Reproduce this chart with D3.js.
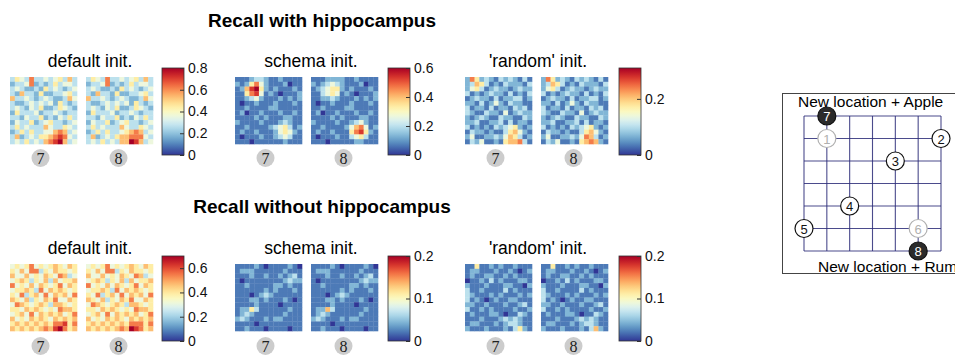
<!DOCTYPE html>
<html>
<head>
<meta charset="utf-8">
<script src="https://cdn.jsdelivr.net/npm/d3@7"></script>
<style>
  body { margin: 0; background: #fff; }
  svg { display: block; font-family: "Liberation Sans", Arial, sans-serif; }
</style>
</head>
<body>
<svg id="chart" width="955" height="358"></svg>
<script>
// each string is one row of a 14x14 map, digit d = d/9 of the colourbar max
const withDefault7 = ["35437334345363","23347232353443","34322325343234","32633252233453","63343234322364","32234343425323","34324352235432","25333423343233","33243352324353","24335234533234","35343336433543","23535334467634","36234355678743","34353436789634"];
const withDefault8 = ["35437334345363","23347232353443","34322325343234","32633252233453","63343234322364","32234343425323","34324352235432","25333423343233","33243352324353","24335234533234","35343336433543","23535334567634","36234356677743","34353436698634"];
const withSchema7 = ["11123321121111","21257421112011","12689521211121","11578412101112","11234211121212","10112111211121","11211112211111","12011211121121","11112121112211","21111211123211","11211112345312","12112111245421","10111211234311","11101111112111"];
const withSchema8 = ["11122221121111","21234321112011","12345521211121","11345412101112","11223211121212","10112111211121","11211112211111","12011211121121","11112121112211","21111211234211","11211112467412","12112111578521","10111211345311","11101111122111"];
const withRandom7 = ["27523213232131","23653121322213","24531232212322","31212322131213","12322131223312","22131242132211","31221312213231","32113221412322","21232113221132","22311223131221","31212132345212","13221211356421","24112232465312","13241121566731"];
const withRandom8 = ["27523213232131","23653121322213","24531232212322","31212322131213","12322131223312","22131242132211","31221312213231","32113221412322","21232113221132","22311223131221","31212132345212","13221211356421","24112232476312","13241121567621"];

const withoutDefault7 = ["45457454565465","54647735465545","64464546547634","45653546364556","74546465457465","45565374656545","54735647465647","65463546574465","47654565366545","55465654547665","45647465656457","64546565465656","56565656577857","65656567689756"];
const withoutDefault8 = ["45457454565465","54647735465545","64464546547634","45653546364556","74546465457465","45565374656545","54735647465647","65463546574465","47654565366545","55465654547665","45647465656457","64546565465656","56565656577757","65656567698756"];
const withoutSchema7 = ["11112101111210","12221111112111","11121121121231","10111111112322","11211111221211","11111121211121","11101232111111","11122121112101","11112111101111","12253111111211","12321111112111","23211121221111","11110111111111","11211101111011"];
const withoutSchema8 = ["11112101111210","12221111112111","11121121121231","10111111112322","11211111221211","11111121211121","11101232111111","11122121112101","11112111101111","12263111111211","12321111112111","23211121221111","11110111111111","11211101111011"];
const withoutRandom7 = ["11511212112111","12211121121012","12112211212111","01121312111221","21112111221102","31121111312111","32111212111212","31210121122111","22112111211231","31121211112112","12111221011321","11121112323211","12211121233211","21112111213521"];
const withoutRandom8 = ["11511212112111","12211121121012","12112211212111","01121312111221","21112111221102","31121111312111","32111212111212","31210121122111","22112111211231","31121211112112","12111221011321","11121112323211","12211121233211","21112111213621"];

const rowTitles = ["Recall with hippocampus", "Recall without hippocampus"];
const panelTitles = ["default init.", "schema init.", "'random' init."];
const panelMax = [[0.8, 0.6, 0.31], [0.7, 0.2, 0.2]];
const panelTicks = [[[0, 0.2, 0.4, 0.6, 0.8], [0, 0.2, 0.4, 0.6], [0, 0.2]],
                    [[0, 0.2, 0.4, 0.6], [0, 0.1, 0.2], [0, 0.1, 0.2]]];
const panelMaps = [[[withDefault7, withDefault8], [withSchema7, withSchema8], [withRandom7, withRandom8]],
                   [[withoutDefault7, withoutDefault8], [withoutSchema7, withoutSchema8], [withoutRandom7, withoutRandom8]]];
const mapLabels = ["7", "8"];

// arena on the right
const arenaSize = 6;
const arenaTop = "New location + Apple";
const arenaBottom = "New location + Rum";
const wells = [
  { id: "1", col: 1, row: 1, kind: "faded" },
  { id: "2", col: 6, row: 1, kind: "open" },
  { id: "3", col: 4, row: 2, kind: "open" },
  { id: "4", col: 2, row: 4, kind: "open" },
  { id: "5", col: 0, row: 5, kind: "open" },
  { id: "6", col: 5, row: 5, kind: "faded" },
  { id: "7", col: 1, row: 0, kind: "new" },
  { id: "8", col: 5, row: 6, kind: "new" },
];

const svg = d3.select("#chart");

const rowLayout = [
  { titleY: 27, panelY: 67, mapY: 77, cbTop: 68, cbBottom: 155, badgeY: 158 },
  { titleY: 213, panelY: 254, mapY: 264, cbTop: 256, cbBottom: 341, badgeY: 346 },
];
const colLayout = [
  { mapX: 10, cbX: 162, titleX: 90 },
  { mapX: 235, cbX: 388, titleX: 311 },
  { mapX: 465, cbX: 619, titleX: 538 },
];
const mapSize = 67, mapGap = 9, cbWidth = 22;

const n = 14;
const cellScale = d3.scaleBand().domain(d3.range(n)).range([0, mapSize]);

rowLayout.forEach((rl, ri) => {
  svg.append("text")
    .attr("x", 322).attr("y", rl.titleY)
    .attr("text-anchor", "middle")
    .style("font-size", "19px").style("font-weight", "bold")
    .text(rowTitles[ri]);

  colLayout.forEach((cl, ci) => {
    const max = panelMax[ri][ci];
    const color = d3.scaleSequential(t => d3.interpolateRdYlBu(1 - t)).domain([0, max]);

    svg.append("text")
      .attr("x", cl.titleX).attr("y", rl.panelY)
      .attr("text-anchor", "middle")
      .style("font-size", "17.5px")
      .text(panelTitles[ci]);

    panelMaps[ri][ci].forEach((rows, mi) => {
      const x0 = cl.mapX + mi * (mapSize + mapGap);
      const cells = [];
      rows.forEach((r, y) => r.split("").forEach((ch, x) => cells.push({ x, y, v: (+ch / 9) * max })));

      svg.append("g")
        .attr("transform", `translate(${x0},${rl.mapY})`)
        .selectAll("rect")
        .data(cells)
        .join("rect")
        .attr("x", d => cellScale(d.x))
        .attr("y", d => cellScale(d.y))
        .attr("width", cellScale.bandwidth() + 0.3)
        .attr("height", cellScale.bandwidth() + 0.3)
        .attr("fill", d => color(d.v));

      // numbered badge under each map
      const bx = x0 + mapSize / 2 - 3 + mi * 2;
      svg.append("circle")
        .attr("cx", bx).attr("cy", rl.badgeY).attr("r", 9)
        .attr("fill", "#cccccc");
      svg.append("text")
        .attr("x", bx).attr("y", rl.badgeY + 5.5)
        .attr("text-anchor", "middle")
        .style("font-family", "'Liberation Serif', 'DejaVu Serif', serif")
        .style("font-size", "16px").style("fill", "#222")
        .text(mapLabels[mi]);
    });

    // colourbar
    const gradId = `grad-${ri}-${ci}`;
    const grad = svg.append("defs").append("linearGradient")
      .attr("id", gradId).attr("x1", 0).attr("x2", 0).attr("y1", 1).attr("y2", 0);
    d3.range(0, 1.0001, 0.05).forEach(t => {
      grad.append("stop").attr("offset", t).attr("stop-color", d3.interpolateRdYlBu(1 - t));
    });
    svg.append("rect")
      .attr("x", cl.cbX).attr("y", rl.cbTop)
      .attr("width", cbWidth).attr("height", rl.cbBottom - rl.cbTop)
      .attr("fill", `url(#${gradId})`)
      .attr("stroke", "#333").attr("stroke-width", 0.8);

    const cbScale = d3.scaleLinear().domain([0, max]).range([rl.cbBottom, rl.cbTop]);
    const axis = svg.append("g")
      .attr("transform", `translate(${cl.cbX + cbWidth},0)`)
      .call(d3.axisRight(cbScale).tickValues(panelTicks[ri][ci]).tickSize(-4).tickPadding(4).tickFormat(d => String(d)));
    axis.select(".domain").remove();
    axis.selectAll("line").attr("stroke", "#333");
    axis.selectAll("text").style("font-size", "14px").style("font-family", "'Liberation Sans', Arial, sans-serif").attr("fill", "#111");
  });
});

// arena panel
const arena = { x: 804, y: 116, w: 137, h: 135 };
const ax = d3.scaleLinear().domain([0, arenaSize]).range([arena.x, arena.x + arena.w]);
const ay = d3.scaleLinear().domain([0, arenaSize]).range([arena.y, arena.y + arena.h]);

svg.append("rect")
  .attr("x", 782.5).attr("y", 93.5).attr("width", 200).attr("height", 180)
  .attr("fill", "none").attr("stroke", "#444").attr("stroke-width", 1);

const grid = svg.append("g").attr("stroke", "#2b2b78").attr("stroke-width", 1.1).attr("stroke-opacity", 0.85);
d3.range(arenaSize + 1).forEach(i => {
  grid.append("line").attr("x1", ax(i)).attr("x2", ax(i)).attr("y1", ay(0)).attr("y2", ay(arenaSize));
  grid.append("line").attr("x1", ax(0)).attr("x2", ax(arenaSize)).attr("y1", ay(i)).attr("y2", ay(i));
});

svg.append("text").attr("x", 798).attr("y", 107)
  .style("font-size", "15.5px").text(arenaTop);
svg.append("text").attr("x", 818).attr("y", 272)
  .style("font-size", "15.5px").text(arenaBottom);

const wellG = svg.append("g").selectAll("g").data(wells).join("g")
  .attr("transform", d => `translate(${ax(d.col)},${ay(d.row)})`);
wellG.append("circle")
  .attr("r", 9)
  .attr("fill", d => d.kind === "new" ? "#2b2b2b" : "#fff")
  .attr("stroke", d => d.kind === "faded" ? "#b0b0b0" : "#111")
  .attr("stroke-width", 1.2);
wellG.append("text")
  .attr("y", 5)
  .attr("text-anchor", "middle")
  .style("font-size", "13px")
  .attr("fill", d => d.kind === "new" ? "#fff" : d.kind === "faded" ? "#b0b0b0" : "#111")
  .text(d => d.id);
</script>
</body>
</html>
